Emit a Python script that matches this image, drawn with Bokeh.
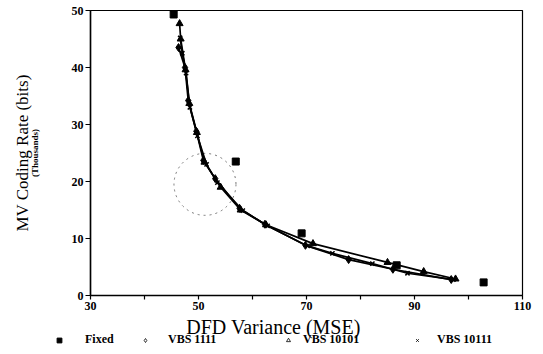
from bokeh.plotting import figure
from bokeh.models import Range1d, FixedTicker, LinearAxis, Legend, LegendItem, Label
from bokeh.embed import file_html
from bokeh.resources import INLINE

# ---------------- data ----------------
fixed_x = [45.4, 56.9, 69.1, 86.7, 102.8]
fixed_y = [49.3, 23.5, 10.9, 5.3, 2.3]

vbs1111_x = [46.3, 47.5, 48.1, 49.6, 50.9, 53.1, 57.6, 62.3, 69.8, 77.8, 86.0, 96.8]
vbs1111_y = [43.5, 40.0, 34.2, 28.8, 23.7, 20.5, 15.3, 12.5, 8.8, 6.3, 4.6, 2.8]

vbs10101_x = [46.5, 46.7, 47.6, 48.3, 49.7, 51.1, 54.1, 57.8, 62.5, 71.2, 85.0, 91.7, 97.6]
vbs10101_y = [47.7, 45.0, 39.6, 33.7, 28.6, 23.4, 19.0, 15.0, 12.4, 9.1, 5.8, 4.2, 2.9]

vbs10111_x = [46.6, 47.0, 47.7, 48.4, 49.8, 51.5, 53.5, 58.2, 62.8, 70.2, 74.8, 82.2, 88.7, 97.2]
vbs10111_y = [45.2, 42.5, 39.0, 33.0, 28.0, 23.0, 19.8, 14.9, 12.2, 8.7, 7.4, 5.6, 3.9, 2.8]

highlight_x = [51.2]
highlight_y = [19.5]

x_ticks = [30, 40, 50, 60, 70, 80, 90, 100, 110]
x_unlabeled = [40, 60, 80, 100]
y_ticks = [0, 10, 20, 30, 40, 50]

x_title = "DFD Variance (MSE)"
y_title = "MV Coding Rate (bits)"
y_subtitle = "(Thousands)"
series_names = ["Fixed", "VBS 1111", "VBS 10101", "VBS 10111"]

SERIF = "Liberation Serif"

p = figure(width=543, height=315, output_backend="svg", toolbar_location=None,
           x_range=Range1d(30, 110), y_range=Range1d(0, 50),
           min_border_left=90, min_border_right=21, min_border_top=10,
           min_border_bottom=20, x_axis_location=None, y_axis_location=None)
p.grid.visible = False
p.outline_line_color = "black"
p.outline_line_width = 1.2
p.background_fill_color = "white"
p.border_fill_color = "white"

# x axis (ticks and tick labels; its title sits in the strip below)
xa = LinearAxis(ticker=FixedTicker(ticks=x_ticks))
xa.major_label_overrides = {t: "" for t in x_unlabeled}
xa.axis_line_color = "black"
xa.axis_line_width = 1.5
xa.major_tick_out = 4
xa.major_tick_in = 0
xa.major_tick_line_width = 1.2
xa.minor_tick_line_color = None
xa.major_label_text_font = SERIF
xa.major_label_text_font_style = "bold"
xa.major_label_text_font_size = "12px"
xa.major_label_text_color = "black"
xa.major_label_standoff = 2
p.add_layout(xa, "below")

# y axis (inner, with ticks and the "(Thousands)" note)
ya = LinearAxis(ticker=FixedTicker(ticks=y_ticks))
ya.axis_line_color = "black"
ya.axis_line_width = 1.5
ya.major_tick_out = 5
ya.major_tick_in = 0
ya.major_tick_line_width = 1.2
ya.minor_tick_line_color = None
ya.major_label_text_font = SERIF
ya.major_label_text_font_style = "bold"
ya.major_label_text_font_size = "12px"
ya.major_label_text_color = "black"
ya.major_label_standoff = 2
ya.axis_label = y_subtitle
ya.axis_label_text_font = SERIF
ya.axis_label_text_font_style = "bold"
ya.axis_label_text_font_size = "9px"
ya.axis_label_text_color = "black"
ya.axis_label_standoff = 29
p.add_layout(ya, "left")

# y axis (outer, only the title)
yb = LinearAxis(ticker=FixedTicker(ticks=[]))
yb.axis_line_color = None
yb.major_tick_line_color = None
yb.minor_tick_line_color = None
yb.major_tick_out = 0
yb.major_label_text_font_size = "1px"
yb.axis_label = y_title
yb.axis_label_text_font = SERIF
yb.axis_label_text_font_style = "normal"
yb.axis_label_text_font_size = "17px"
yb.axis_label_text_color = "black"
yb.axis_label_standoff = -5
p.add_layout(yb, "left")

# highlight circle
p.scatter(highlight_x, highlight_y, marker="circle", size=62, fill_color=None,
          line_color="#666666", line_width=0.9, line_dash="dotted")

# series lines
for xs, ys in [(vbs1111_x, vbs1111_y), (vbs10101_x, vbs10101_y), (vbs10111_x, vbs10111_y)]:
    p.line(xs, ys, line_color="black", line_width=1.7)

p.scatter(vbs1111_x, vbs1111_y, marker="diamond", size=8, color="black")
p.scatter(vbs10101_x, vbs10101_y, marker="triangle", size=7, color="black")
p.scatter(vbs10111_x, vbs10111_y, marker="x", size=6, line_color="black", line_width=1.5)
p.scatter(fixed_x, fixed_y, marker="square", size=7, color="black")

# ---------------- strip below the chart: x title and legend ----------------
strip = figure(width=543, height=39, output_backend="svg", toolbar_location=None,
               x_range=Range1d(30, 110), y_range=Range1d(-100, -99),
               min_border_left=0, min_border_right=0, min_border_top=0,
               min_border_bottom=0, x_axis_location=None, y_axis_location=None)
strip.grid.visible = False
strip.outline_line_color = None
strip.background_fill_color = "white"
strip.border_fill_color = "white"

strip.add_layout(Label(text=x_title, x=273, y=28, x_units="screen", y_units="screen",
                       text_align="center", text_baseline="middle",
                       text_font=SERIF, text_font_size="20px", text_color="black"))

# legend swatches (the series' points lie outside this strip's view)
lg_fixed = strip.scatter(fixed_x, fixed_y, marker="square",
                         fill_color="black", line_color="black")
lg_d = strip.scatter(vbs1111_x, vbs1111_y, marker="diamond",
                     fill_color="white", line_color="black", line_width=0.8)
lg_t = strip.scatter(vbs10101_x, vbs10101_y, marker="triangle",
                     fill_color="white", line_color="black", line_width=0.8)
lg_x = strip.scatter(vbs10111_x, vbs10111_y, marker="x",
                     line_color="black", line_width=0.8)

legend_specs = [
    (series_names[0], lg_fixed, 53, 12, 20),
    (series_names[1], lg_d, 140, 10, 18),
    (series_names[2], lg_t, 283, 10, 10),
    (series_names[3], lg_x, 412, 10, 15),
]
for name, r, lx, gsz, standoff in legend_specs:
    lg = Legend(items=[LegendItem(label=name, renderers=[r])],
                location=(lx, 7), orientation="horizontal",
                glyph_width=gsz, glyph_height=gsz, label_height=12,
                label_standoff=standoff, padding=0, margin=0, spacing=0,
                background_fill_alpha=0, border_line_alpha=0,
                label_text_font=SERIF, label_text_font_style="bold",
                label_text_font_size="12px", label_text_color="black")
    strip.add_layout(lg, "center")

open("out.html", "w").write(file_html([p, strip], INLINE))
